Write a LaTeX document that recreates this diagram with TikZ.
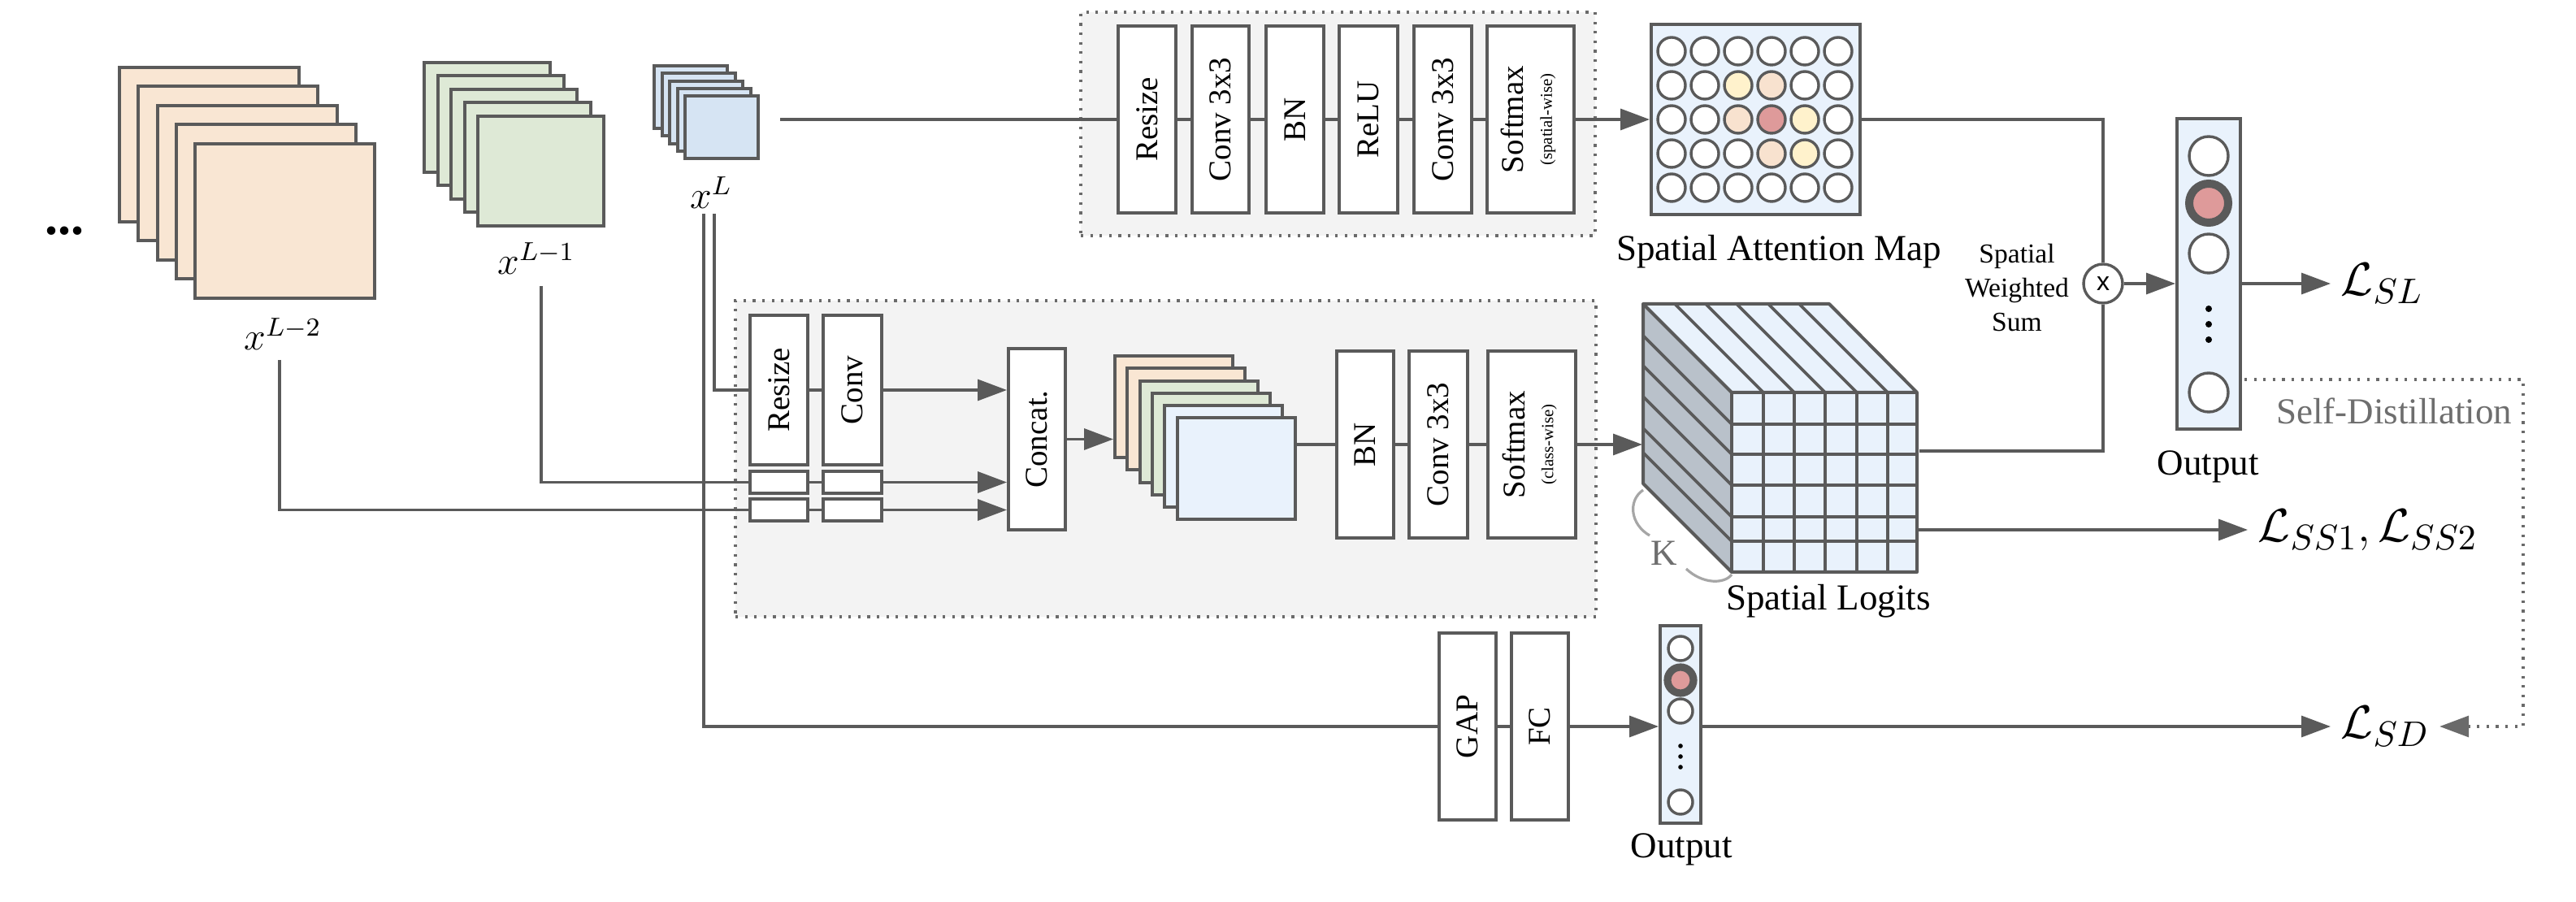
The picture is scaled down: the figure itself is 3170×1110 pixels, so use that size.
\documentclass[tikz,border=0pt]{standalone}
\usepackage[no-math]{fontspec}
\setmainfont{Liberation Serif}
\newfontfamily\sansf{Liberation Sans}
\usetikzlibrary{arrows.meta,fit,calc}
\definecolor{lc}{HTML}{5A5A5A}
\definecolor{dbc}{HTML}{6A6A6A}
\definecolor{bgc}{HTML}{F3F3F3}
\definecolor{orc}{HTML}{F9E6D3}
\definecolor{grc}{HTML}{DEE9D6}
\definecolor{blc}{HTML}{D6E4F3}
\definecolor{lbc}{HTML}{E9F2FC}
\definecolor{sdc}{HTML}{B9C1CA}
\definecolor{yec}{HTML}{FFF2CC}
\definecolor{pec}{HTML}{F8E2CF}
\definecolor{rdc}{HTML}{DE9A9A}
\definecolor{txg}{HTML}{6E6E6E}
\definecolor{arcg}{HTML}{A6A6A6}
\newcommand\bxf{\fontsize{9.75}{11}\selectfont}
\newcommand\smf{\fontsize{5.2}{6}\selectfont}
\newcommand\rv[1]{\rotatebox{90}{#1}}
\newcommand\rvtwo[2]{\rotatebox{90}{\begin{tabular}{@{}c@{}}#1\\[-2.2pt]{\smf #2}\end{tabular}}}
\begin{document}
\begin{tikzpicture}[x=0.25pt,y=-0.25pt,
  box/.style={draw=lc, fill=white, line width=1pt, inner sep=0pt},
  btxt/.style={label={[font=\bxf, inner sep=0pt]center:{\rv{#1}}}},
  btwo/.style 2 args={label={[font=\bxf, inner sep=0pt]center:{\rvtwo{#1}{#2}}}},
  cn/.style={draw=lc, line width=0.85pt},
  arr/.style={cn, -{Triangle[length=9pt,width=6.5pt]}},
  dotl/.style={line width=0.8pt, dash pattern=on 0.8pt off 2.1pt},
  dotbox/.style={draw=dbc, fill=bgc, dotl},
  sheet/.style={draw=lc, line width=1pt},
  cir/.style={circle, draw=lc, line width=0.85pt, fill=white, inner sep=0pt},
  dotn/.style={circle, fill=black, inner sep=0pt},
  lbl/.style={font=\fontsize{11.25}{13}\selectfont, inner sep=1pt},
  loss/.style={font=\fontsize{15}{18}\selectfont, inner sep=3pt},
  xlab/.style={font=\fontsize{12}{14}\selectfont, inner sep=0pt}]
\useasboundingbox (0,0) rectangle (3170,1110);
\fill[white] (0,0) rectangle (3170,1110);

% ---------- input feature stacks ----------
\node[font=\bfseries\fontsize{16}{18}\selectfont, inner sep=0pt] (dots) at (79,284) {...};
\foreach \k in {0,...,4}
  \draw[sheet, fill=orc] ({147+23.3*\k},{83+23.5*\k}) rectangle ++(221,190);
\foreach \k in {0,...,4}
  \draw[sheet, fill=grc] ({522+16.5*\k},{77+16.5*\k}) rectangle ++(155,135);
\foreach \k in {0,...,4}
  \draw[sheet, fill=blc] ({805+9.5*\k},{81+9.3*\k}) rectangle ++(90,77);
\node[xlab] (xLm2) at (348,411) {$x^{L-2}$};
\node[xlab] (xLm1) at (660,318) {$x^{L-1}$};
\node[xlab] (xL) at (875,237) {$x^{L}$};
\coordinate (xLm2c) at (344,443);
\coordinate (xLm1c) at (666,352);
\coordinate (xLa) at (879,263);
\coordinate (xLb) at (866,263);
\coordinate (xLr) at (960,147);

% ---------- top branch (spatial attention) ----------
\node[dotbox, inner sep=0pt, fit={(1330,15)(1963,290)}] (topbox) {};
\node[box, btxt=Resize, fit={(1376,32)(1447,262)}] (tRes) {};
\node[box, btxt=Conv 3x3, fit={(1467,32)(1537,262)}] (tC1) {};
\node[box, btxt=BN, fit={(1558,32)(1629,262)}] (tBN) {};
\node[box, btxt=ReLU, fit={(1648,32)(1720,262)}] (tReLU) {};
\node[box, btxt=Conv 3x3, fit={(1740,32)(1811,262)}] (tC2) {};
\node[box, btwo={Softmax}{(spatial-wise)}, fit={(1830,32)(1937,262)}] (tSm) {};
\node[draw=lc, fill=lbc, line width=1pt, inner sep=0pt, fit={(2032,30)(2289,264)}] (att) {};
\foreach \row [count=\j from 0] in {{white,white,white,white,white,white},{white,white,yec,pec,white,white},{white,white,pec,rdc,yec,white},{white,white,white,pec,yec,white},{white,white,white,white,white,white}}
  \foreach \cc [count=\i from 0] in \row
    \node[cir, fill=\cc, minimum size=8.5pt] (a\j\i) at ({2057+41*\i},{63+42*\j}) {};
\node[lbl] (attlbl) at (2189,310) {Spatial Attention Map};

\draw[cn] (xLr) -- (tRes);
\draw[cn] (tRes) -- (tC1);
\draw[cn] (tC1) -- (tBN);
\draw[cn] (tBN) -- (tReLU);
\draw[cn] (tReLU) -- (tC2);
\draw[cn] (tC2) -- (tSm);
\draw[arr] (tSm) -- (att);

% ---------- lower branch (spatial logits) ----------
\node[dotbox, inner sep=0pt, fit={(905,370)(1964,759)}] (lowbox) {};
\node[box, btxt=Resize, fit={(923,388)(994,572)}] (lRes) {};
\node[box, btxt=Conv, fit={(1013,388)(1085,572)}] (lConv) {};
\node[box, fit={(923,580)(994,607)}] (s1a) {};
\node[box, fit={(1013,580)(1085,607)}] (s1b) {};
\node[box, fit={(923,614)(994,641)}] (s2a) {};
\node[box, fit={(1013,614)(1085,641)}] (s2b) {};
\node[box, btxt=Concat., fit={(1241,429)(1311,652)}] (concat) {};
\foreach \k/\cc in {0/orc,1/orc,2/grc,3/grc,4/lbc,5/lbc}
  \node[sheet, fill=\cc, inner sep=0pt, fit={({1372+15.3*\k},{438+15.3*\k})({1517+15.3*\k},{563+15.3*\k})}] (st\k) {};
\node[box, btxt=BN, fit={(1645,432)(1715,662)}] (lBN) {};
\node[box, btxt=Conv 3x3, fit={(1734,432)(1806,662)}] (lC3) {};
\node[box, btwo={Softmax}{(class-wise)}, fit={(1831,432)(1939,662)}] (lSm) {};

\draw[cn] (xLa) |- (lRes);
\draw[cn] (lRes) -- (lConv);
\draw[arr] (lConv) -- (lConv -| concat.west);
\draw[cn] (xLm1c) |- (s1a);
\draw[cn] (s1a) -- (s1b);
\draw[arr] (s1b) -- (s1b -| concat.west);
\draw[cn] (xLm2c) |- (s2a);
\draw[cn] (s2a) -- (s2b);
\draw[arr] (s2b) -- (s2b -| concat.west);
\draw[arr] (concat) -- (concat -| st0.west);
\draw[cn] (st5.east |- lBN) -- (lBN);
\draw[cn] (lBN) -- (lC3);
\draw[cn] (lC3) -- (lSm);

% ---------- spatial logits cube ----------
\coordinate (cA) at (2022,374);
\coordinate (cB) at (2251,374);
\coordinate (cC) at (2131,483);
\coordinate (cD) at (2359,483);
\coordinate (cE) at (2131,704);
\coordinate (cF) at (2359,704);
\coordinate (cG) at (2022,595);
\fill[lbc] (cA) -- (cB) -- (cD) -- (cC) -- cycle;
\fill[sdc] (cA) -- (cC) -- (cE) -- (cG) -- cycle;
\fill[lbc] (cC) rectangle (cF);
\foreach \xx in {2170,2208,2246,2285,2323} {
  \draw[cn, line width=0.9pt] (\xx,483) -- (\xx,704);
  \draw[cn, line width=0.9pt] ({\xx-109},374) -- (\xx,483);
}
\foreach \yy in {522,559,597,636,666} {
  \draw[cn, line width=1pt] (2131,\yy) -- (2359,\yy);
  \draw[cn, line width=0.9pt] (2022,{\yy-109}) -- (2131,\yy);
}
\draw[cn, line width=1pt, line join=round] (cA) -- (cB) -- (cD) -- (cF) -- (cE) -- (cG) -- cycle;
\draw[cn, line width=1pt] (cA) -- (cC) -- (cD);
\draw[cn, line width=1pt] (cC) -- (cE);
\draw[arcg, line width=0.8pt] (2022,603) .. controls (2003,616) and (2006,645) .. (2030,659);
\draw[arcg, line width=0.8pt] (2075,700) .. controls (2095,719) and (2122,719) .. (2131,707);
\node[lbl, text=txg] (K) at (2048,681) {K};
\node[lbl] (sllbl) at (2250,740) {Spatial Logits};
\coordinate (cin) at (2021,547);
\coordinate (cR1) at (2362,555);
\coordinate (cR2) at (2357,652);
\draw[arr] (lSm) -- (cin);

% ---------- weighted sum and output ----------
\node[circle, draw=lc, line width=0.85pt, fill=white, minimum size=12pt, inner sep=0pt, font=\sansf\fontsize{8}{9}\selectfont] (mul) at (2588,349) {x};
\node[font=\fontsize{8.4}{10.5}\selectfont, align=center, inner sep=0pt] (sws) at (2482,354) {Spatial\\Weighted\\Sum};
\node[draw=lc, fill=lbc, line width=1pt, inner sep=0pt, fit={(2679,146)(2757,528)}] (outc) {};
\node[cir, minimum size=12pt] (o1) at (2718,192) {};
\node[cir, fill=rdc, line width=2.5pt, minimum size=12pt] (o2) at (2718,250) {};
\node[cir, minimum size=12pt] (o3) at (2718,312) {};
\node[cir, minimum size=12pt] (o4) at (2718,483) {};
\foreach \yy [count=\n] in {380,399,418}
  \node[dotn, minimum size=2pt] (od\n) at (2718,\yy) {};
\node[lbl] (outlbl) at (2717,574) {Output};
\node[loss, anchor=west] (LSL) at (2868,349) {$\mathcal{L}_{SL}$};
\node[loss, anchor=west] (LSS) at (2766,652) {$\mathcal{L}_{SS1},\mathcal{L}_{SS2}$};

\draw[cn] (att.east) -| (mul.north);
\draw[cn] (cR1) -| (mul.south);
\draw[arr] (mul.east) -- (mul.east -| outc.west);
\draw[arr] (mul.east -| outc.east) -- (LSL.west);
\draw[arr] (cR2) -- (LSS.west);

% ---------- GAP branch ----------
\node[box, btxt=GAP, fit={(1771,779)(1841,1009)}] (gap) {};
\node[box, btxt=FC, fit={(1860,779)(1930,1009)}] (fc) {};
\node[draw=lc, fill=lbc, line width=1pt, inner sep=0pt, fit={(2043,770)(2093,1013)}] (oc2) {};
\node[cir, minimum size=7.5pt] (p1) at (2068,798) {};
\node[cir, fill=rdc, line width=2.3pt, minimum size=8pt] (p2) at (2068,837) {};
\node[cir, minimum size=7.5pt] (p3) at (2068,875) {};
\node[cir, minimum size=7.5pt] (p4) at (2068,987) {};
\foreach \yy [count=\n] in {918,931,944}
  \node[dotn, minimum size=1.4pt] (pd\n) at (2068,\yy) {};
\node[lbl] (out2lbl) at (2069,1045) {Output};
\node[loss, anchor=west] (LSD) at (2868,894) {$\mathcal{L}_{SD}$};

\draw[cn] (xLb) |- (gap);
\draw[cn] (gap) -- (fc);
\draw[arr] (fc) -- (fc -| oc2.west);
\draw[arr] (fc -| oc2.east) -- (LSD.west);

% ---------- self distillation ----------
\coordinate (sd0) at (2762,467);
\coordinate (sd1) at (3105,467);
\coordinate (sd2) at (3105,894);
\draw[draw=dbc, dotl, -{Triangle[length=9pt,width=6.5pt]}] (sd0) -- (sd1) -- (sd2) -- (LSD.east);
\node[lbl, text=txg, anchor=east] (sdlbl) at (3096,506) {Self-Distillation};
\end{tikzpicture}
\end{document}
